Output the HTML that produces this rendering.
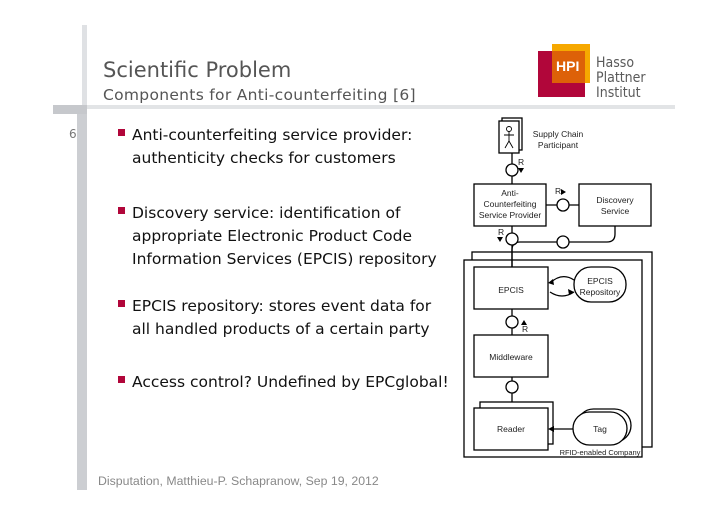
<!DOCTYPE html>
<html><head><meta charset="utf-8"><style>
body{margin:0;background:#fff;width:728px;height:515px;overflow:hidden}
svg{display:block}
.b{font-family:"DejaVu Sans","Liberation Sans",sans-serif;font-size:15.5px;fill:#111}
.d{font-family:"Liberation Sans",sans-serif;font-size:8.5px;fill:#222}
</style></head><body>
<svg width="728" height="515" viewBox="0 0 728 515" xmlns="http://www.w3.org/2000/svg">
<rect x="82" y="25" width="5" height="82" fill="#dfe1e4"/>
<rect x="77" y="107" width="10" height="383" fill="#ccced2"/>
<rect x="53" y="105" width="34" height="9" fill="#c6c8cc"/>
<rect x="87" y="105" width="588" height="4" fill="#e2e4e6"/>
<text x="69" y="138" font-family="DejaVu Sans,sans-serif" font-size="12" fill="#777">6</text>
<text x="103" y="77" font-family="DejaVu Sans,sans-serif" font-size="21" fill="#555">Scientific Problem</text>
<text x="103" y="100" font-family="DejaVu Sans,sans-serif" font-size="15.5" fill="#555" letter-spacing="0.3">Components for Anti-counterfeiting [6]</text>
<rect x="538" y="51" width="47" height="46" fill="#b1063a"/>
<rect x="552" y="44" width="38" height="39" fill="#f6a800"/>
<rect x="552" y="51" width="33" height="32" fill="#dd6108"/>
<text x="556" y="71" font-family="Liberation Sans,sans-serif" font-weight="bold" font-size="14" fill="#fff">HPI</text>
<g font-family="DejaVu Sans Condensed,DejaVu Sans,sans-serif" font-size="14" fill="#5a5a5a">
<text x="596" y="67">Hasso</text><text x="596" y="82">Plattner</text><text x="596" y="97">Institut</text></g>
<g fill="#b1063a">
<rect x="118" y="129" width="7" height="7"/><rect x="118" y="207" width="7" height="7"/>
<rect x="118" y="300" width="7" height="7"/><rect x="118" y="376" width="7" height="7"/></g>
<g class="b">
<text x="132" y="140">Anti-counterfeiting service provider:</text>
<text x="132" y="163">authenticity checks for customers</text>
<text x="132" y="218">Discovery service: identification of</text>
<text x="132" y="241">appropriate Electronic Product Code</text>
<text x="132" y="264">Information Services (EPCIS) repository</text>
<text x="132" y="311">EPCIS repository: stores event data for</text>
<text x="132" y="334">all handled products of a certain party</text>
<text x="132" y="387">Access control? Undefined by EPCglobal!</text>
</g>
<text x="98" y="485" font-family="Liberation Sans,sans-serif" font-size="12.3" fill="#888">Disputation, Matthieu-P. Schapranow, Sep 19, 2012</text>
<g stroke="#000" stroke-width="1.3" fill="#fff">
<rect x="472" y="252" width="180" height="195"/>
<rect x="464" y="260" width="178" height="197"/>
<rect x="502" y="118" width="20" height="32"/>
<rect x="499" y="121" width="20" height="32"/>
<line x1="512" y1="153" x2="512" y2="184"/>
<line x1="546" y1="205" x2="579" y2="205"/>
<path d="M615 226 V234 Q615 242 607 242 H520 Q512 242 512 250 V267" fill="none"/>
<line x1="512" y1="226" x2="512" y2="267"/>
<line x1="512" y1="309" x2="512" y2="335"/>
<line x1="512" y1="377" x2="512" y2="408"/>
<rect x="474" y="184" width="72" height="42"/>
<rect x="579" y="184" width="72" height="42"/>
<rect x="474" y="267" width="74" height="42"/>
<rect x="474" y="335" width="74" height="42"/>
<rect x="480" y="402" width="73" height="42"/>
<rect x="474" y="408" width="74" height="42"/>
<rect x="577" y="409" width="54" height="33" rx="16.5"/>
<rect x="573" y="412" width="54" height="33" rx="16.5"/>
<rect x="574" y="267" width="52" height="35" rx="17"/>
<circle cx="512" cy="170" r="6"/><circle cx="563" cy="205" r="6"/>
<circle cx="512" cy="239" r="6"/><circle cx="563" cy="242" r="6"/>
<circle cx="512" cy="322" r="6"/><circle cx="512" cy="387" r="6"/>
<line x1="573" y1="429" x2="552" y2="429"/>
<path d="M574 280 Q562 272 550 283" fill="none"/>
<path d="M550 292 Q562 300 574 292" fill="none"/>
<g stroke-width="0.9" fill="none"><circle cx="509" cy="129" r="2.5"/>
<path d="M509 131.5 V141 M504 135 H514 M509 141 L505 148 M509 141 L513 148"/></g>
</g>
<g fill="#000">
<path d="M548 429 L554 426 L554 432Z"/>
<path d="M548 283 L553 279 L554 285Z"/>
<path d="M574 292 L568 289 L569 295Z"/>
<path d="M518 168 L524 168 L521 173Z"/>
<path d="M561 189 L566 192 L561 195Z"/>
<path d="M497 237 L503 237 L500 242Z"/>
<path d="M521 325 L527 325 L524 320Z"/>
</g>
<g class="d" font-size="6">
<text x="518" y="165">R</text><text x="555" y="194">R</text><text x="498" y="235">R</text><text x="522" y="332">R</text></g>
<g class="d" text-anchor="middle">
<text x="558" y="137">Supply Chain</text><text x="558" y="148">Participant</text>
<text x="510" y="196">Anti-</text><text x="510" y="207">Counterfeiting</text><text x="510" y="218">Service Provider</text>
<text x="615" y="203">Discovery</text><text x="615" y="214">Service</text>
<text x="511" y="293">EPCIS</text>
<text x="600" y="284">EPCIS</text><text x="600" y="295">Repository</text>
<text x="511" y="360">Middleware</text>
<text x="511" y="432">Reader</text>
<text x="600" y="432">Tag</text>
<text x="600" y="455" font-size="7.5">RFID-enabled Company</text>
</g>
</svg>
</body></html>
